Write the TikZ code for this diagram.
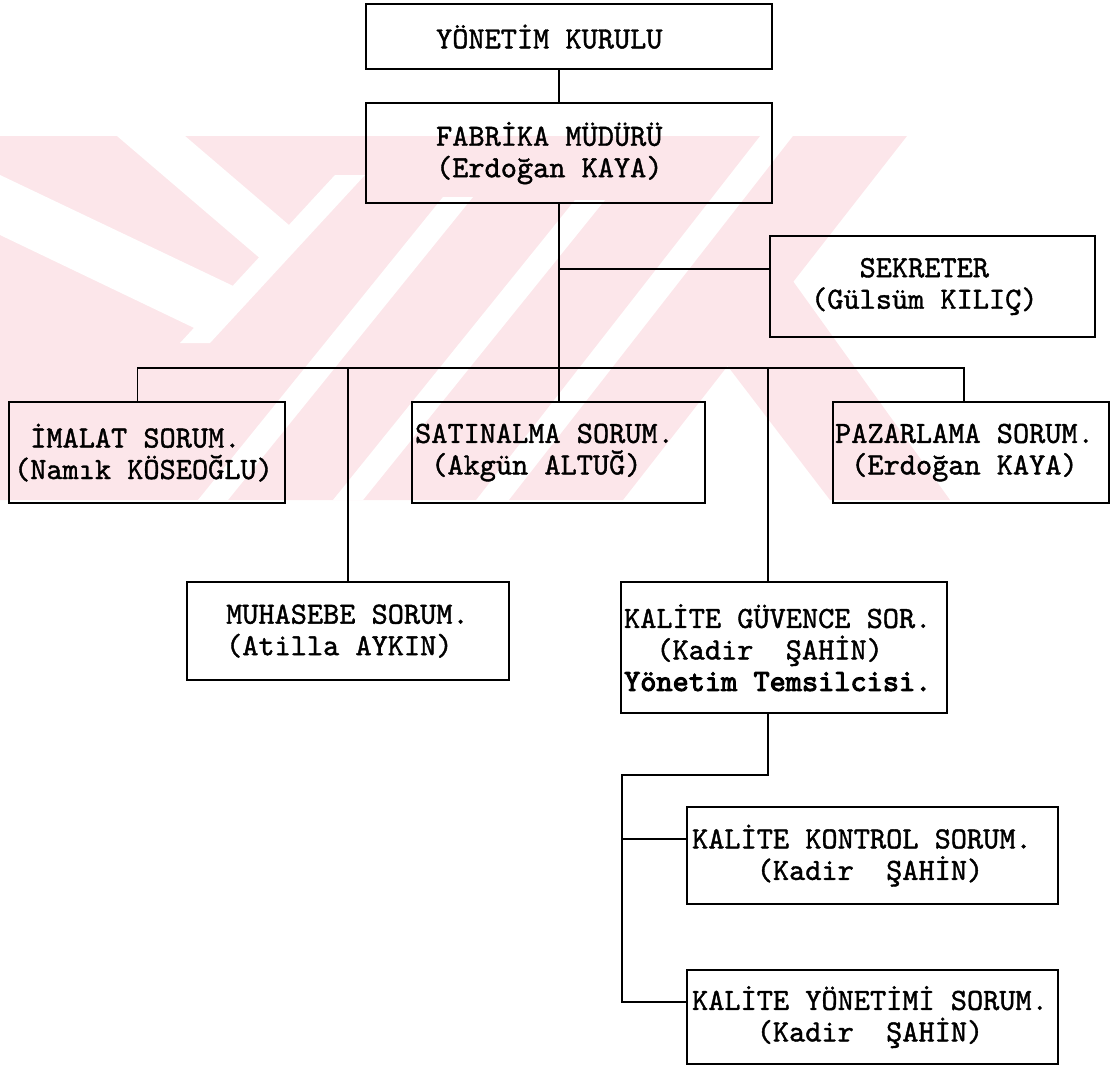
\documentclass[tikz,border=0pt]{standalone}
\usepackage{fontspec}
\newfontfamily\orgtt{lmmono10-regular.otf}[FakeBold=1.3]
\newfontfamily\orgttb{lmmono10-regular.otf}[FakeBold=3.2]
\usepackage{xcolor}
\usepackage{tikz}
\definecolor{WmPink}{RGB}{252,230,234}
\newcommand{\orgfont}{\orgtt\fontsize{15.4}{15.75}\selectfont}
\newcommand{\orgbold}{\orgttb}
% one fixed character cell
\newcommand{\sk}{\hspace*{\fontcharwd\font`\M}}
\tikzset{
  orgbox/.style={draw=black,line width=1.1pt,anchor=north west,align=left,inner ysep=0pt,font=\orgfont},
  orgline/.style={line width=0.9pt,draw=black},
  wmark/.style={fill=WmPink,draw=none},
  wgap/.style={fill=white,draw=none}
}

\begin{document}
\begin{tikzpicture}[x=0.5pt,y=-0.5pt]
\useasboundingbox (0,0) rectangle (1112,1065);
% watermark in the background
\fill[wmark] (0,136) -- (760,136) -- (476,500) -- (0,500) -- cycle;
\fill[wmark] (793,136) -- (907,136) -- (623,500) -- (509,500) -- cycle;
\fill[wmark] (700,330) -- (785,270) -- (950,500) -- (830,500) -- cycle;
\fill[wgap] (117,136) -- (185,136) -- (296,231) -- (269,266) -- cycle;
\fill[wgap] (0,175) -- (248,293) -- (213,337) -- (0,235) -- cycle;
\fill[wgap] (335,175) -- (365,175) -- (210,343) -- (180,343) -- cycle;
\fill[wgap] (443,197) -- (473,197) -- (228,500) -- (198,500) -- cycle;
\fill[wgap] (575,200) -- (605,200) -- (363,500) -- (333,500) -- cycle;
% boxes
\node[orgbox,minimum width=203pt,minimum height=32.5pt,text width=133pt,inner xsep=35pt] (yk) at (365,3) {YÖNETİM\sk KURULU};
\node[orgbox,minimum width=203pt,minimum height=50pt,text width=133pt,inner xsep=35pt] (fm) at (365,102) {FABRİKA\sk MÜDÜRÜ\\(Erdoğan\sk KAYA)};
\node[orgbox,minimum width=162.5pt,minimum height=50.5pt,text width=121.5pt,inner xsep=20.5pt] (sek) at (769,235) {\sk\sk\sk SEKRETER\\(Gülsüm\sk KILIÇ)};
\node[orgbox,minimum width=138pt,minimum height=50.5pt,text width=133pt,inner xsep=2.5pt] (ima) at (8,401) {\sk İMALAT\sk SORUM.\\(Namık\sk KÖSEOĞLU)};
\node[orgbox,minimum width=146.5pt,minimum height=50.5pt,text width=143.5pt,inner xsep=1.5pt] (sat) at (411,401) {SATINALMA\sk SORUM.\\\sk (Akgün\sk ALTUĞ)};
\node[orgbox,minimum width=138pt,minimum height=50.5pt,text width=136pt,inner xsep=1pt] (paz) at (832,401) {PAZARLAMA\sk SORUM.\\\sk (Erdoğan\sk KAYA)};
\node[orgbox,minimum width=161pt,minimum height=49pt,text width=122pt,inner xsep=19.5pt] (muh) at (186,581) {MUHASEBE\sk SORUM.\\(Atilla\sk AYKIN)};
\node[orgbox,minimum width=163pt,minimum height=65.5pt,text width=160pt,inner xsep=1.5pt] (kgs) at (620,581) {KALİTE\sk GÜVENCE\sk SOR.\\\sk\sk (Kadir\sk\sk ŞAHİN)\\{\orgbold Yönetim\sk Temsilcisi.}};
\node[orgbox,minimum width=185.5pt,minimum height=48.5pt,text width=180.5pt,inner xsep=2.5pt] (kk) at (686,806) {KALİTE\sk KONTROL\sk SORUM.\\\sk\sk\sk\sk (Kadir\sk\sk ŞAHİN)};
\node[orgbox,minimum width=185.5pt,minimum height=47pt,text width=180.5pt,inner xsep=2.5pt] (ky) at (686,969) {KALİTE\sk YÖNETİMİ\sk SORUM.\\\sk\sk\sk\sk (Kadir\sk\sk ŞAHİN)};
% connectors
\coordinate (trunk) at (559,0);
\coordinate (sekj) at (559,269);
\coordinate (busl) at (137.5,368);
\coordinate (busr) at (964,368);
\coordinate (kgsj) at (768,368);
\coordinate (kbend) at (622,775);
\coordinate (kmid) at (622,839);
\coordinate (kbot) at (622,1002);
\draw[orgline] (yk.south -| trunk) -- (fm.north -| trunk);
\draw[orgline] (fm.south -| trunk) -- (sat.north -| trunk);
\draw[orgline] (sekj) -- (sekj -| sek.west);
\draw[orgline] (busl |- ima.north) -- (busl) -- (busr) -- (busr |- paz.north);
\draw[orgline] (muh.north) -- (muh.north |- busl);
\draw[orgline] (kgsj) -- (kgsj |- kgs.north);
\draw[orgline] (kgs.south -| kgsj) |- (kbend) -- (kbot) -- (kbot -| ky.west);
\draw[orgline] (kmid) -- (kmid -| kk.west);
\end{tikzpicture}
\end{document}
